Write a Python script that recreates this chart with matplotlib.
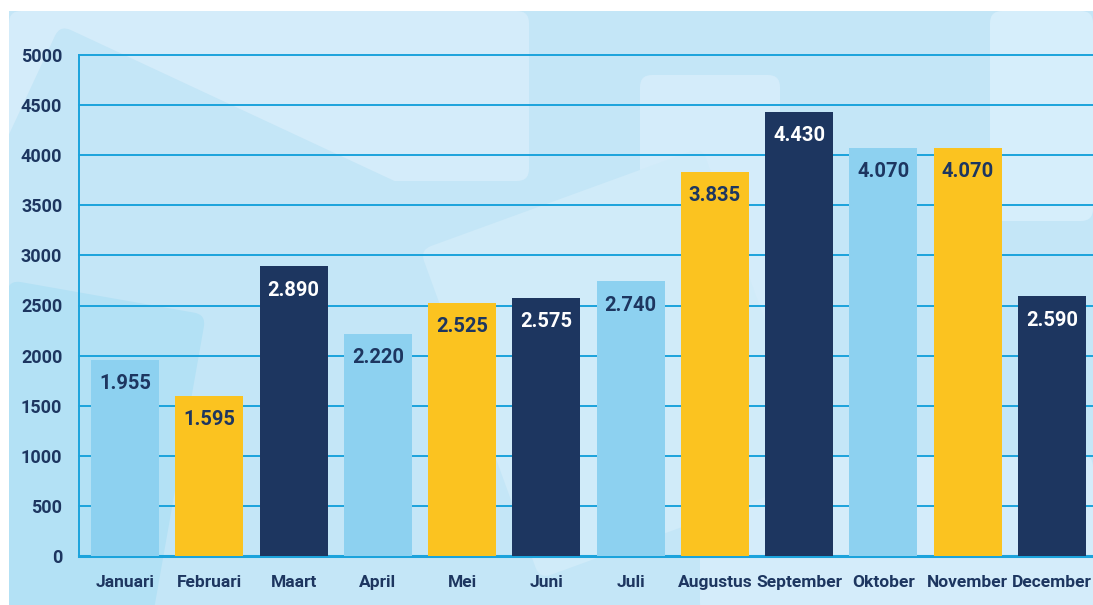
import matplotlib.pyplot as plt
from matplotlib.patches import Rectangle, FancyBboxPatch
from matplotlib.transforms import Affine2D

months = ['Januari', 'Februari', 'Maart', 'April', 'Mei', 'Juni', 'Juli',
          'Augustus', 'September', 'Oktober', 'November', 'December']
values = [1955, 1595, 2890, 2220, 2525, 2575, 2740, 3835, 4430, 4070, 4070, 2590]
value_labels = ['1.955', '1.595', '2.890', '2.220', '2.525', '2.575', '2.740',
                '3.835', '4.430', '4.070', '4.070', '2.590']
yticks = [0, 500, 1000, 1500, 2000, 2500, 3000, 3500, 4000, 4500, 5000]

LIGHT = '#8dd1f0'
YELLOW = '#fbc320'
NAVY = '#1d3660'
GRID = '#1ba3dc'
bar_colors = [LIGHT, YELLOW, NAVY, LIGHT, YELLOW, NAVY, LIGHT,
              YELLOW, NAVY, LIGHT, YELLOW, NAVY]

plt.rcParams['font.family'] = ['Roboto', 'DejaVu Sans']

fig = plt.figure(figsize=(10.93, 6.05), dpi=100)
W, H = 1093, 605

# background panel
panel = Rectangle((9 / W, 0), 1 - 9 / W, 1 - 11 / H, transform=fig.transFigure,
                  facecolor='#c4e6f7', edgecolor='none', zorder=0)
fig.patches.append(panel)

# decorative faint shapes, pixel coords measured from top-left
def deco(x, y, w, h, ang, color):
    p = FancyBboxPatch((x, -y - h), w, h, boxstyle='round,pad=0,rounding_size=12',
                       facecolor=color, edgecolor='none', zorder=0.5)
    t = (Affine2D().rotate_deg_around(x, -y, -ang) + Affine2D().translate(0, H)
         + Affine2D().scale(1 / W, 1 / H) + fig.transFigure)
    p.set_transform(t)
    p.set_clip_path(panel)
    fig.patches.append(p)

deco(9, 11, 520, 170, 0, '#d4ecfa')
deco(60, 25, 420, 260, 25, '#c4e6f7')
deco(640, 75, 140, 300, 0, '#d4ecfa')
deco(990, 11, 103, 210, 0, '#d6eefb')
deco(700, 455, 393, 160, 0, '#d4ecfa')
deco(9, 280, 200, 400, 10, '#b3e1f5')
deco(420, 250, 300, 350, -20, '#d0ebf9')

ax = fig.add_axes([79 / W, (H - 556) / H, 1 - 79 / W, (556 - 55) / H])
ax.set_zorder(2)
ax.set_facecolor('none')

x = list(range(len(months)))
bars = ax.bar(x, values, width=0.807, color=bar_colors, zorder=3)

for b, lab, c in zip(bars, value_labels, bar_colors):
    tc = 'white' if c == NAVY else NAVY
    ax.annotate(lab, (b.get_x() + b.get_width() / 2, b.get_height()),
                xytext=(0, -17), textcoords='offset points', ha='center', va='center',
                fontsize=14.5, fontweight='bold', color=tc, zorder=4)

ax.set_xlim(-0.546, 11.487)
ax.set_ylim(0, 5000)
ax.set_yticks(yticks)
for yv in yticks:
    ax.axhline(yv, color=GRID, lw=2.2 if yv == 0 else 1.4, zorder=2, clip_on=False)

for s in ['top', 'right', 'bottom']:
    ax.spines[s].set_visible(False)
ax.spines['left'].set_color(GRID)
ax.spines['left'].set_linewidth(1.4)
ax.spines['left'].set_zorder(2)

ax.set_xticks(x)
ax.set_xticklabels(months)
ax.tick_params(axis='both', length=0, labelcolor=NAVY)
ax.tick_params(axis='y', pad=12, labelsize=13)
ax.tick_params(axis='x', pad=14, labelsize=12.5)
for t in ax.get_xticklabels() + ax.get_yticklabels():
    t.set_fontweight('bold')

fig.savefig('out.png', dpi=100)
